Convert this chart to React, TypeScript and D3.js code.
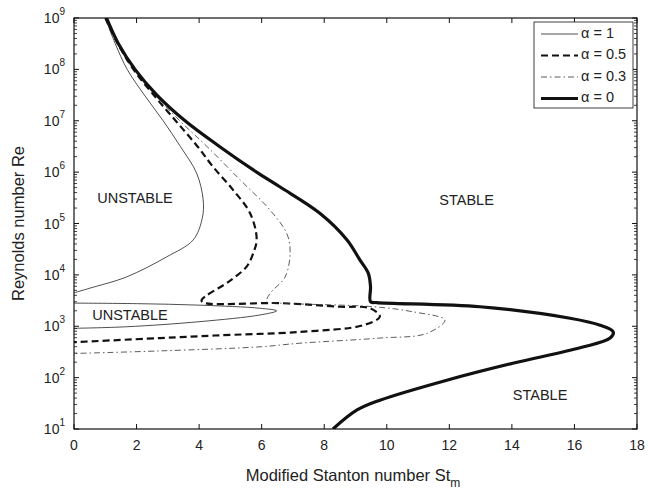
import React from "react";
import * as d3 from "d3";

// ---- data (St_m, log10 Re) ----
const alpha1UpperSt = [1.0, 1.32, 1.7, 2.25, 2.85, 3.4, 3.92, 4.13, 4.1, 3.81, 2.96, 1.68, 0.5, 0];
const alpha1UpperLogRe = [9, 8.5, 8, 7.5, 7, 6.5, 5.98, 5.46, 5.1, 4.68, 4.35, 3.96, 3.74, 3.65];

const alpha1LowerSt = [0, 2, 4.03, 5.95, 6.48, 5.95, 4.03, 1.68, 0];
const alpha1LowerLogRe = [3.45, 3.44, 3.41, 3.35, 3.3, 3.22, 3.09, 2.99, 2.96];

const alpha05St = [1.0, 1.4, 1.9, 2.55, 3.25, 3.95, 4.45, 5.09, 5.63, 5.84, 5.73, 5.52, 5.15, 4.88, 4.08, 4.13, 6.59, 8.5, 9.46, 9.78, 9.25, 7.22, 4.5, 2.75, 0];
const alpha05LogRe = [9, 8.5, 8, 7.5, 7, 6.5, 6.1, 5.65, 5.2, 4.7, 4.42, 4.16, 3.96, 3.84, 3.51, 3.46, 3.45, 3.38, 3.35, 3.19, 3.02, 2.89, 2.82, 2.77, 2.69];

const alpha03St = [1.0, 1.42, 1.93, 2.6, 3.38, 4.25, 5.31, 6.27, 6.8, 6.91, 6.75, 6.27, 6.16, 6.59, 9.57, 10.85, 11.86, 11.28, 9.78, 7.22, 5.95, 2.75, 0];
const alpha03LogRe = [9, 8.5, 8, 7.5, 7, 6.5, 5.85, 5.26, 4.81, 4.45, 3.96, 3.64, 3.48, 3.45, 3.38, 3.28, 3.12, 2.86, 2.77, 2.67, 2.6, 2.52, 2.47];

const alpha0St = [1.04, 1.42, 1.95, 2.65, 3.55, 4.65, 5.84, 6.59, 7.86, 8.73, 9.14, 9.41, 9.48, 9.48, 9.68, 12.98, 15.86, 16.82, 17.24, 17.14, 16.18, 14.03, 11.92, 9.78, 9.05, 8.28];
const alpha0LogRe = [9, 8.5, 8, 7.5, 7.0, 6.5, 6.0, 5.71, 5.2, 4.68, 4.29, 4.03, 3.77, 3.48, 3.46, 3.38, 3.155, 3.02, 2.89, 2.77, 2.58, 2.28, 1.95, 1.56, 1.37, 1.0];

const xTicks = [0, 2, 4, 6, 8, 10, 12, 14, 16, 18];
const yExponents = [1, 2, 3, 4, 5, 6, 7, 8, 9];
const legendLabels = ["α = 1", "α = 0.5", "α = 0.3", "α = 0"];
const regionLabels = ["UNSTABLE", "UNSTABLE", "STABLE", "STABLE"];
const regionSt = [1.95, 1.79, 12.55, 14.9];
const regionLogRe = [5.48, 3.2, 5.44, 1.63];

const W = 648, H = 491;
const M = { left: 74, right: 637, top: 18, bottom: 429 };
const FONT = "'Liberation Sans', Arial, Helvetica, sans-serif";

export default function App() {
  const x = d3.scaleLinear().domain([0, 18]).range([M.left, M.right]);
  const y = d3.scaleLog().domain([1e1, 1e9]).range([M.bottom, M.top]);

  const mk = (st: number[], lr: number[]) => {
    const pts = st.map((s, i) => [s, Math.pow(10, lr[i])] as [number, number]);
    return d3
      .line<[number, number]>()
      .x((d) => x(d[0]))
      .y((d) => y(d[1]))
      .curve(d3.curveCatmullRom.alpha(0.5))(pts) as string;
  };

  const series = [
    { paths: [mk(alpha1UpperSt, alpha1UpperLogRe), mk(alpha1LowerSt, alpha1LowerLogRe)], w: 0.8, dash: "", color: "#222" },
    { paths: [mk(alpha05St, alpha05LogRe)], w: 2.2, dash: "7,4", color: "#111" },
    { paths: [mk(alpha03St, alpha03LogRe)], w: 0.8, dash: "6,3,1.5,3", color: "#333" },
    { paths: [mk(alpha0St, alpha0LogRe)], w: 3.2, dash: "", color: "#111" },
  ];

  const minor: number[] = [];
  for (let e = 1; e < 9; e++) for (let k = 2; k <= 9; k++) minor.push(k * Math.pow(10, e));

  const legX = 534, legY = 22, legW = 99, legH = 86;

  return (
    <svg width={W} height={H} style={{ position: "fixed", left: 0, top: 0, background: "#fff" }} fontFamily={FONT}>
      <defs>
        <clipPath id="plot">
          <rect x={M.left} y={M.top} width={M.right - M.left} height={M.bottom - M.top} />
        </clipPath>
      </defs>
      <rect x={0} y={0} width={W} height={H} fill="#fff" />

      {/* curves */}
      <g clipPath="url(#plot)" fill="none" strokeLinejoin="round">
        {series.map((s, i) =>
          s.paths.map((p, j) => (
            <path key={i + "-" + j} d={p} stroke={s.color} strokeWidth={s.w} strokeDasharray={s.dash || undefined} />
          ))
        )}
      </g>

      {/* region labels */}
      {regionLabels.map((t, i) => (
        <text key={i} x={x(regionSt[i])} y={y(Math.pow(10, regionLogRe[i]))} fontSize={14.5} textAnchor="middle" dominantBaseline="middle" fill="#222">
          {t}
        </text>
      ))}

      {/* axes box */}
      <rect x={M.left} y={M.top} width={M.right - M.left} height={M.bottom - M.top} fill="none" stroke="#111" strokeWidth={1.2} />

      {/* x ticks */}
      {xTicks.map((t) => (
        <g key={"x" + t}>
          <line x1={x(t)} x2={x(t)} y1={M.bottom} y2={M.bottom - 5} stroke="#111" />
          <line x1={x(t)} x2={x(t)} y1={M.top} y2={M.top + 5} stroke="#111" />
          <text x={x(t)} y={446} fontSize={14} textAnchor="middle" dominantBaseline="middle" fill="#222">
            {t}
          </text>
        </g>
      ))}

      {/* y ticks */}
      {yExponents.map((e) => {
        const yy = y(Math.pow(10, e));
        return (
          <g key={"y" + e}>
            <line x1={M.left} x2={M.left + 5} y1={yy} y2={yy} stroke="#111" />
            <line x1={M.right} x2={M.right - 5} y1={yy} y2={yy} stroke="#111" />
            <text x={65} y={yy + 5} fontSize={14} textAnchor="end" fill="#222">
              10<tspan dy={-8} fontSize={10}>{e}</tspan>
            </text>
          </g>
        );
      })}
      {minor.map((v, i) => (
        <g key={"m" + i}>
          <line x1={M.left} x2={M.left + 3} y1={y(v)} y2={y(v)} stroke="#111" strokeWidth={0.8} />
          <line x1={M.right} x2={M.right - 3} y1={y(v)} y2={y(v)} stroke="#111" strokeWidth={0.8} />
        </g>
      ))}

      {/* axis labels */}
      <text x={353} y={481} fontSize={16.5} textAnchor="middle" fill="#222">
        Modified Stanton number St<tspan dy={6} fontSize={12}>m</tspan>
      </text>
      <text transform={`translate(24, ${(M.top + M.bottom) / 2}) rotate(-90)`} fontSize={16.5} textAnchor="middle" fill="#222">
        Reynolds number Re
      </text>

      {/* legend */}
      <rect x={legX} y={legY} width={legW} height={legH} fill="#fff" stroke="#111" strokeWidth={0.8} />
      {legendLabels.map((l, i) => {
        const ly = legY + 12 + i * 21.5;
        const s = series[i];
        return (
          <g key={"l" + i}>
            <line x1={541} x2={578} y1={ly} y2={ly} stroke={s.color} strokeWidth={s.w} strokeDasharray={s.dash || undefined} />
            <text x={581} y={ly} fontSize={14.5} dominantBaseline="middle" fill="#222">
              {l}
            </text>
          </g>
        );
      })}
    </svg>
  );
}
